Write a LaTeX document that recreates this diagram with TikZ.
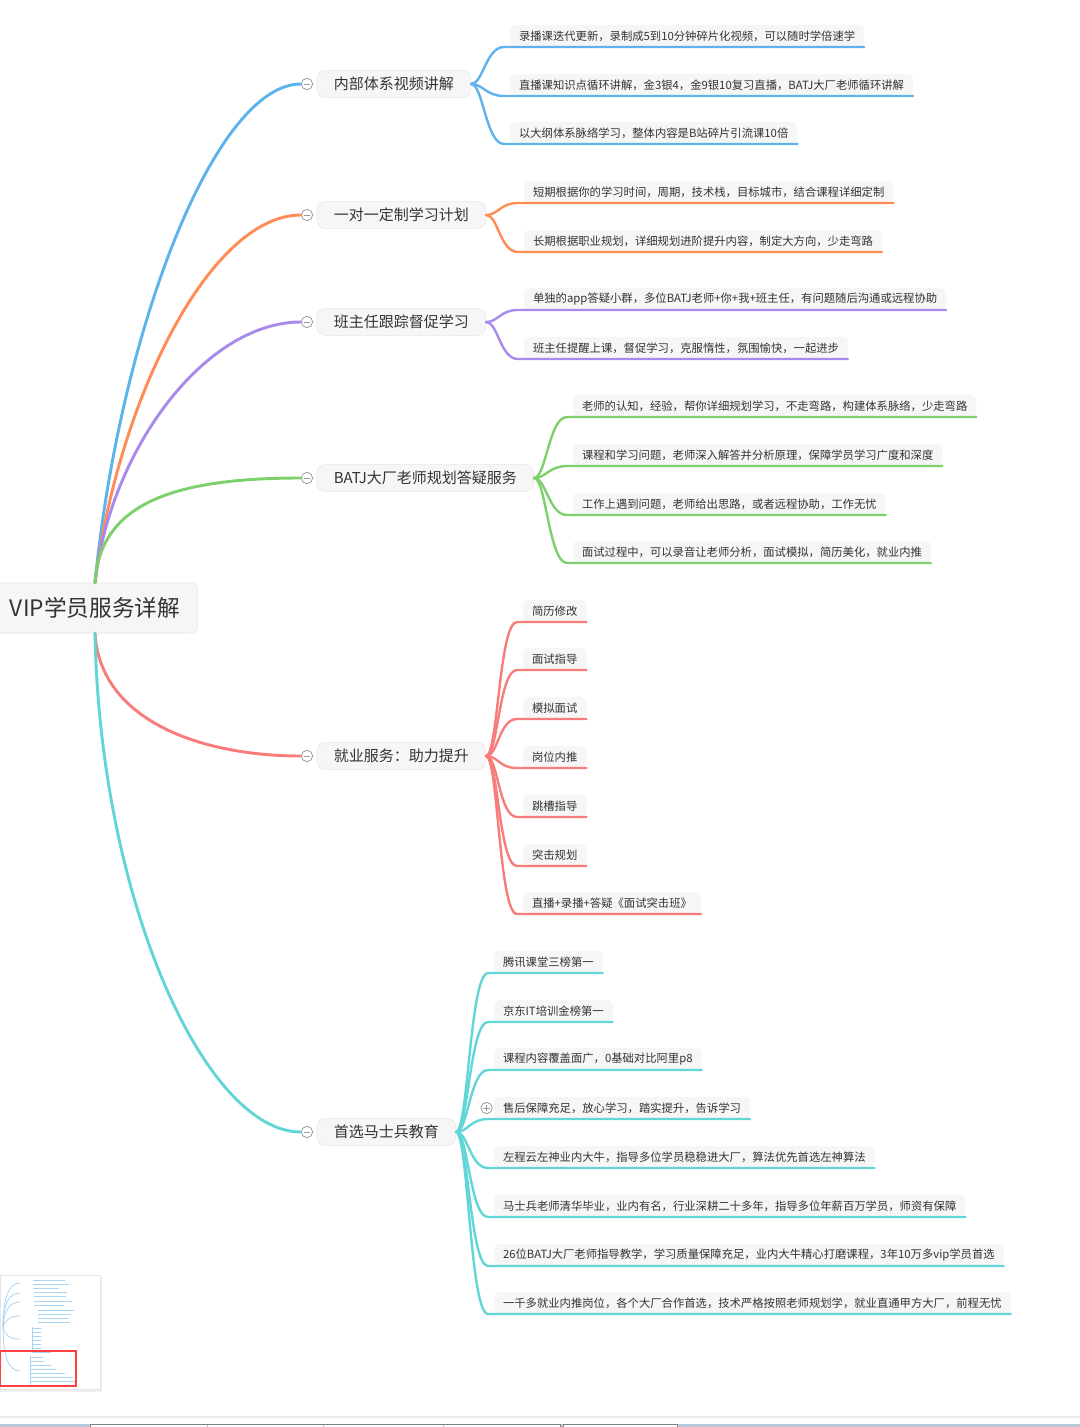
\documentclass[tikz,border=0pt]{standalone}
\usepackage{fontspec}
\setmainfont{Noto Sans CJK SC}
\usetikzlibrary{positioning}

\definecolor{lineblue}{HTML}{5DB4EA}
\definecolor{lineorange}{HTML}{FF8B55}
\definecolor{linepurple}{HTML}{A88AEA}
\definecolor{linegreen}{HTML}{7DD06C}
\definecolor{linered}{HTML}{F87C7A}
\definecolor{lineteal}{HTML}{62D5D6}
\definecolor{boxfill}{HTML}{F6F6F6}
\definecolor{boxline}{HTML}{E6E6E6}
\definecolor{txt}{HTML}{333333}
\definecolor{foldgray}{HTML}{9A9A9A}
\definecolor{mapblue}{HTML}{A9D5F5}
\definecolor{barblue}{HTML}{B9C9DA}

\begin{document}
\begin{tikzpicture}[
    x=0.75pt, y=-0.75pt,
    root/.style={draw=boxline, fill=boxfill, rounded corners=4.5pt, minimum width=154pt, minimum height=37.5pt, font=\fontsize{17}{20}\selectfont, text=txt},
    topic/.style={draw=boxline, fill=boxfill, rounded corners=6pt, minimum height=20pt, inner xsep=12.75pt, inner ysep=0pt, font=\fontsize{11.25}{13}\selectfont, text=txt},
    leaf/.style={fill=boxfill, rounded corners=3.5pt, minimum height=16.5pt, inner xsep=6.75pt, inner ysep=0pt, outer sep=0pt, anchor=west, font=\fontsize{8.5}{10}\selectfont, text=txt},
    fold/.style={circle, draw=foldgray, fill=white, line width=0.6pt, minimum size=8.5pt, inner sep=0pt,
      path picture={\draw[foldgray, line width=0.6pt] ([xshift=-2.6pt]path picture bounding box.center) -- ([xshift=2.6pt]path picture bounding box.center);}},
    unfold/.style={fold,
      path picture={\draw[foldgray, line width=0.6pt] ([xshift=-2.6pt]path picture bounding box.center) -- ([xshift=2.6pt]path picture bounding box.center)
        ([yshift=-2.6pt]path picture bounding box.center) -- ([yshift=2.6pt]path picture bounding box.center);}},
    trunk/.style={line width=2.2pt, line cap=round},
    twig/.style={line width=1.8pt, line cap=round, out=0, in=180, out distance=9pt, in distance=13.5pt}
  ]
    \useasboundingbox (0,0) rectangle (1080,1427);

    % root and main topics
    \node[root] (vip) at (95,608) {VIP学员服务详解};
    \node[fold] (f1) at (307,84) {};
    \node[topic, right=2.6pt of f1] (t1) {内部体系视频讲解};
    \node[fold] (f2) at (307,215) {};
    \node[topic, right=2.6pt of f2] (t2) {一对一定制学习计划};
    \node[fold] (f3) at (307,322) {};
    \node[topic, right=2.6pt of f3] (t3) {班主任跟踪督促学习};
    \node[fold] (f4) at (307,478) {};
    \node[topic, right=2.6pt of f4] (t4) {BATJ大厂老师规划答疑服务};
    \node[fold] (f5) at (307,756) {};
    \node[topic, right=2.6pt of f5] (t5) {就业服务：助力提升};
    \node[fold] (f6) at (307,1132) {};
    \node[topic, right=2.6pt of f6] (t6) {首选马士兵教育};

    \draw[trunk, lineblue] (vip.north) .. controls (120,330) and (215,84) .. (f1.west);
    \draw[trunk, lineorange] (vip.north) .. controls (118,400) and (210,215) .. (f2.west);
    \draw[trunk, linepurple] (vip.north) .. controls (110,450) and (205,322) .. (f3.west);
    \draw[trunk, linegreen] (vip.north) .. controls (100,505) and (170,478) .. (f4.west);
    \draw[trunk, linered] (vip.south) .. controls (100,720) and (200,756) .. (f5.west);
    \draw[trunk, lineteal] (vip.south) .. controls (100,900) and (205,1132) .. (f6.west);

    % video
    \node[leaf] (v1) at (510,36) {录播课迭代更新，录制成5到10分钟碎片化视频，可以随时学倍速学};
    \node[leaf] (v2) at (510,85) {直播课知识点循环讲解，金3银4，金9银10复习直播，BATJ大厂老师循环讲解};
    \node[leaf] (v3) at (510,133) {以大纲体系脉络学习，整体内容是B站碎片引流课10倍};
    \draw[twig, lineblue] (t1.east) to ([xshift=-4.5pt]v1.south west) -- (v1.south east);
    \draw[twig, lineblue] (t1.east) to ([xshift=-4.5pt]v2.south west) -- (v2.south east);
    \draw[twig, lineblue] (t1.east) to ([xshift=-4.5pt]v3.south west) -- (v3.south east);

    % plan
    \node[leaf] (p1) at (524,192) {短期根据你的学习时间，周期，技术栈，目标城市，结合课程详细定制};
    \node[leaf] (p2) at (524,241) {长期根据职业规划，详细规划进阶提升内容，制定大方向，少走弯路};
    \draw[twig, lineorange] (t2.east) to ([xshift=-4.5pt]p1.south west) -- (p1.south east);
    \draw[twig, lineorange] (t2.east) to ([xshift=-4.5pt]p2.south west) -- (p2.south east);

    % supervise
    \node[leaf] (s1) at (524,299) {单独的app答疑小群，多位BATJ老师+你+我+班主任，有问题随后沟通或远程协助};
    \node[leaf] (s2) at (524,348) {班主任提醒上课，督促学习，克服惰性，氛围愉快，一起进步};
    \draw[twig, linepurple] (t3.east) to ([xshift=-4.5pt]s1.south west) -- (s1.south east);
    \draw[twig, linepurple] (t3.east) to ([xshift=-4.5pt]s2.south west) -- (s2.south east);

    % teachers
    \node[leaf] (g1) at (573,406) {老师的认知，经验，帮你详细规划学习，不走弯路，构建体系脉络，少走弯路};
    \node[leaf] (g2) at (573,455) {课程和学习问题，老师深入解答并分析原理，保障学员学习广度和深度};
    \node[leaf] (g3) at (573,504) {工作上遇到问题，老师给出思路，或者远程协助，工作无忧};
    \node[leaf] (g4) at (573,552) {面试过程中，可以录音让老师分析，面试模拟，简历美化，就业内推};
    \draw[twig, linegreen] (t4.east) to ([xshift=-4.5pt]g1.south west) -- (g1.south east);
    \draw[twig, linegreen] (t4.east) to ([xshift=-4.5pt]g2.south west) -- (g2.south east);
    \draw[twig, linegreen] (t4.east) to ([xshift=-4.5pt]g3.south west) -- (g3.south east);
    \draw[twig, linegreen] (t4.east) to ([xshift=-4.5pt]g4.south west) -- (g4.south east);

    % jobs
    \node[leaf] (j1) at (523,611) {简历修改};
    \node[leaf] (j2) at (523,659) {面试指导};
    \node[leaf] (j3) at (523,708) {模拟面试};
    \node[leaf] (j4) at (523,757) {岗位内推};
    \node[leaf] (j5) at (523,806) {跳槽指导};
    \node[leaf] (j6) at (523,855) {突击规划};
    \node[leaf] (j7) at (523,903) {直播+录播+答疑《面试突击班》};
    \draw[twig, linered] (t5.east) to ([xshift=-4.5pt]j1.south west) -- (j1.south east);
    \draw[twig, linered] (t5.east) to ([xshift=-4.5pt]j2.south west) -- (j2.south east);
    \draw[twig, linered] (t5.east) to ([xshift=-4.5pt]j3.south west) -- (j3.south east);
    \draw[twig, linered] (t5.east) to ([xshift=-4.5pt]j4.south west) -- (j4.south east);
    \draw[twig, linered] (t5.east) to ([xshift=-4.5pt]j5.south west) -- (j5.south east);
    \draw[twig, linered] (t5.east) to ([xshift=-4.5pt]j6.south west) -- (j6.south east);
    \draw[twig, linered] (t5.east) to ([xshift=-4.5pt]j7.south west) -- (j7.south east);

    % msb
    \node[leaf] (m1) at (494,962) {腾讯课堂三榜第一};
    \node[leaf] (m2) at (494,1011) {京东IT培训金榜第一};
    \node[leaf] (m3) at (494,1059) {课程内容覆盖面广，0基础对比阿里p8};
    \node[leaf] (m4) at (494,1108) {售后保障充足，放心学习，踏实提升，告诉学习};
    \node[leaf] (m5) at (494,1157) {左程云左神业内大牛，指导多位学员稳稳进大厂，算法优先首选左神算法};
    \node[leaf] (m6) at (494,1206) {马士兵老师清华毕业，业内有名，行业深耕二十多年，指导多位年薪百万学员，师资有保障};
    \node[leaf] (m7) at (494,1255) {26位BATJ大厂老师指导教学，学习质量保障充足，业内大牛精心打磨课程，3年10万多vip学员首选};
    \node[leaf] (m8) at (494,1303) {一千多就业内推岗位，各个大厂合作首选，技术严格按照老师规划学，就业直通甲方大厂，前程无忧};
    \node[unfold, left=1pt of m4] (m4x) {};
    \draw[twig, lineteal] (t6.east) to ([xshift=-4.5pt]m1.south west) -- (m1.south east);
    \draw[twig, lineteal] (t6.east) to ([xshift=-4.5pt]m2.south west) -- (m2.south east);
    \draw[twig, lineteal] (t6.east) to ([xshift=-4.5pt]m3.south west) -- (m3.south east);
    \draw[twig, lineteal] (t6.east) to ([xshift=-4.5pt]m4.south west) -- (m4.south east);
    \draw[twig, lineteal] (t6.east) to ([xshift=-4.5pt]m5.south west) -- (m5.south east);
    \draw[twig, lineteal] (t6.east) to ([xshift=-4.5pt]m6.south west) -- (m6.south east);
    \draw[twig, lineteal] (t6.east) to ([xshift=-4.5pt]m7.south west) -- (m7.south east);
    \draw[twig, lineteal] (t6.east) to ([xshift=-4.5pt]m8.south west) -- (m8.south east);

    % minimap
    \fill[black!6] (0,1277) rectangle (102,1392);
    \draw[black!10, fill=white] (0,1275) rectangle (100,1389);
    \begin{scope}[mapblue, line width=0.6pt]
      \draw (3,1327) .. controls (3,1295) and (10,1283) .. (20,1283);
      \draw (3,1327) .. controls (3,1302) and (10,1293) .. (20,1293);
      \draw (3,1327) .. controls (4,1310) and (10,1302) .. (20,1302);
      \draw (3,1327) .. controls (5,1320) and (10,1316) .. (20,1316);
      \draw (3,1327) .. controls (5,1336) and (10,1339) .. (20,1339);
      \draw (3,1327) .. controls (3,1355) and (8,1371) .. (20,1371);
      \draw (33,1280) -- (65,1280) (33,1284) -- (69,1284) (33,1288) -- (59,1288);
      \draw (34,1292) -- (67,1292) (34,1296) -- (66,1296);
      \draw (34,1301) -- (72,1301) (34,1305) -- (64,1305);
      \draw (38,1310) -- (74,1310) (38,1314) -- (71,1314) (38,1318) -- (68,1318) (38,1322) -- (70,1322);
      \draw (33,1328) -- (41,1328) (33,1332) -- (41,1332) (33,1336) -- (41,1336) (33,1340) -- (41,1340)
            (33,1344) -- (41,1344) (33,1348) -- (41,1348) (33,1352) -- (51,1352);
      \draw (31,1357) -- (43,1357) (31,1361) -- (44,1361) (31,1365) -- (51,1365) (31,1369) -- (56,1369)
            (31,1373) -- (65,1373) (31,1377) -- (73,1377) (31,1381) -- (76,1381) (31,1385) -- (76,1385);
      \draw (32,1327) -- (32,1353) (30,1356) -- (30,1386);
    \end{scope}
    \draw[red!75, line width=0.8pt] (0,1351) rectangle (76,1386);

    % bottom bar
    \fill[black!8] (0,1416) rectangle (1080,1418);
    \fill[barblue] (0,1424) rectangle (1080,1427);
    \draw[black!50, fill=white, line width=0.5pt] (90,1424.5) rectangle (560,1428);
    \draw[black!50, fill=white, line width=0.5pt] (563,1424.5) rectangle (677,1428);
    \draw[black!25, line width=0.5pt] (207,1425) -- (207,1427) (323,1425) -- (323,1427) (443,1425) -- (443,1427);
\end{tikzpicture}
\end{document}
